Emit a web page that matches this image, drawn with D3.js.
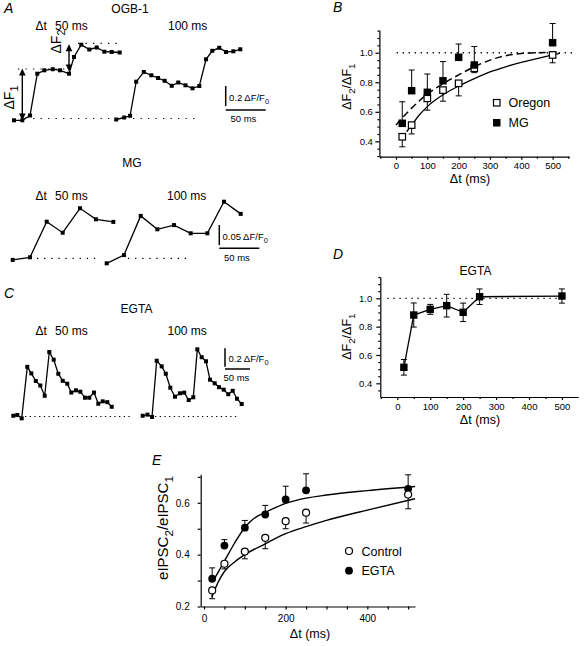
<!DOCTYPE html>
<html><head><meta charset="utf-8">
<script src="https://cdn.jsdelivr.net/npm/d3@7"></script>
<style>
body{margin:0;background:#fff}
svg{display:block}
text{font-family:"Liberation Sans",Arial,Helvetica,sans-serif;fill:#000}
</style>
</head><body>
<svg id="c" width="584" height="646"></svg>
<script>
// ================= DATA =================
// Panel A – OGB-1 traces (time in ms, ΔF/F0)
const ogb50Time = [0,10.4,20,29.1,37.9,48.4,57.5,68.8,75,84.1,94.1,103.4,112.9,122.1,132.1];
const ogb50Val  = [-0.018,-0.018,0.03,0.448,0.482,0.493,0.482,0.448,0.615,0.738,0.69,0.71,0.668,0.665,0.66];
const ogb100Time = [0,10,17.3,25,34.5,43.9,52.3,60.6,69.4,77.6,86.6,95.4,103.9,112.3,120.1,128.8,137.3,146.4,155.1];
const ogb100Val  = [-0.01,0.01,0.027,0.368,0.465,0.432,0.405,0.377,0.327,0.36,0.332,0.302,0.325,0.592,0.677,0.707,0.665,0.672,0.692];
const ogbLevels = [0, 0.495, 0.752];           // baseline, ΔF1 level, ΔF2 level
// Panel A – MG traces
const mg50Time = [0,21.6,42.5,62.5,84.1,104.1,125.8];
const mg50Val  = [-0.004,0.0025,0.0915,0.064,0.125,0.0975,0.091];
const mg100Time = [0,21.6,42.5,63.3,84.1,105,125.8,146.6,167.5];
const mg100Val  = [-0.0125,0.008,0.106,0.0725,0.083,0.0625,0.0625,0.1415,0.111];
// Panel C – EGTA traces
const egta50Time = [0,8,16.8,28,36,45,54,62.8,72,80.8,90,98.8,108,116,125.4,134,143.4,152,161.4,170,178.8,188,196.8];
const egta50Val  = [0.008,0.016,-0.02,0.537,0.466,0.384,0.335,0.224,0.697,0.614,0.462,0.386,0.354,0.259,0.283,0.268,0.203,0.203,0.259,0.138,0.164,0.155,0.105];
const egta100Time = [0,9.6,18.6,28,38,46.2,55.2,64.6,74.6,83,92,101.2,109.2,118,126.6,134.6,144,152.6,162,171.2,180,188.6,198];
const egta100Val  = [0.008,0.02,-0.005,0.603,0.542,0.462,0.311,0.214,0.251,0.258,0.178,0.208,0.726,0.641,0.597,0.398,0.359,0.317,0.29,0.241,0.278,0.192,0.135];

// Panel B – paired-pulse ratio of ΔF
const dtValues = [20,50,100,150,200,250,500];
const oregonRatio = [0.431,0.51,0.691,0.747,0.793,0.895,0.985];
const oregonErr   = [0.068,0.06,0.08,0.075,0.085,0.03,0.053];
const mgRatio = [0.522,0.743,0.732,0.81,0.969,0.917,1.068];
const mgErr   = [0.146,0.14,0.124,0.13,0.09,0.125,0.13];
const oregonFitT = [34,50,75,100,150,200,250,300,350,400,450,500,523];
const oregonFitV = [0.465,0.51,0.58,0.635,0.715,0.775,0.825,0.87,0.905,0.935,0.96,0.985,0.995];
const mgFitT = [0,25,50,100,150,200,250,300,350,400,450,520];
const mgFitV = [0.51,0.57,0.625,0.72,0.79,0.85,0.905,0.95,0.98,0.995,1.0,1.005];

// Panel D – EGTA ratio
const egtaRatio = [0.513,0.882,0.922,0.948,0.901,1.011,1.016];
const egtaErr   = [0.055,0.085,0.035,0.08,0.065,0.055,0.05];

// Panel E – eIPSC2/eIPSC1
const controlIpsc = [0.262,0.365,0.412,0.465,0.529,0.562,0.632];
const controlErr  = [0.032,0.02,0.028,0.042,0.029,0.04,0.055];
const egtaIpsc = [0.307,0.435,0.504,0.555,0.613,0.648,0.654];
const egtaIpscErr = [0.042,0.023,0.028,0.035,0.051,0.064,0.054];
const controlFitT = [19,35,50,75,100,150,200,250,300,400,517];
const controlFitV = [0.236,0.295,0.335,0.372,0.40,0.442,0.481,0.508,0.532,0.572,0.616];
const egtaFitT = [23,50,75,100,115,130,150,200,250,300,400,517];
const egtaFitV = [0.30,0.375,0.445,0.505,0.53,0.548,0.563,0.598,0.618,0.63,0.647,0.663];

// Tick labels
const ratioTicks = [0.4,0.6,0.8,1.0];
const dtTicks = [0,100,200,300,400,500];
const ipscTicks = [0.2,0.4,0.6];
const ipscDtTicks = [0,200,400];

// ================= DRAWING =================
const svg = d3.select("#c");
const BLK = "#000";

function rich(x, y, parts, o = {}) {
  const size = o.size || 12;
  const t = svg.append("text").attr("font-size", size)
    .attr("text-anchor", o.anchor || "start");
  if (o.italic) t.attr("font-style", "italic");
  if (o.rotate) { t.attr("x", 0).attr("y", 0).attr("transform", `translate(${x},${y}) rotate(${o.rotate})`); }
  else { t.attr("x", x).attr("y", y); }
  let shifted = 0;
  parts.forEach(p => {
    if (typeof p === "string") {
      const s = t.append("tspan").text(p);
      if (shifted) { s.attr("dy", -shifted); shifted = 0; }
    } else {
      const sh = size * 0.3;
      t.append("tspan").attr("font-size", size * 0.78).attr("dy", sh - shifted).text(p.sub);
      shifted = sh;
    }
  });
  return t;
}
function seg(x1, y1, x2, y2, w = 1.2, dash = null) {
  const l = svg.append("line").attr("x1", x1).attr("y1", y1).attr("x2", x2).attr("y2", y2)
    .attr("stroke", BLK).attr("stroke-width", w);
  if (dash) l.attr("stroke-dasharray", dash);
  return l;
}
function drawTrace(T, V, x, y) {
  const line = d3.line().x((d, i) => x(T[i])).y((d, i) => y(V[i]));
  svg.append("path").attr("d", line(T)).attr("fill", "none").attr("stroke", BLK).attr("stroke-width", 1.3);
  svg.append("g").selectAll("rect").data(T).enter().append("rect")
    .attr("x", (d, i) => x(T[i]) - 2).attr("y", (d, i) => y(V[i]) - 2)
    .attr("width", 4).attr("height", 4).attr("fill", BLK);
}
function traceX(x0, k) { return d3.scaleLinear().domain([0, 100]).range([x0, x0 + 100 * k]); }
function arrowHead(x, yTip, dir) { // dir: -1 up, +1 down
  const L = 7, W = 3.3;
  svg.append("path").attr("d", `M${x},${yTip} L${x - W},${yTip - dir * L} L${x + W},${yTip - dir * L} Z`).attr("fill", BLK);
}

// ---------- Panel A (OGB-1) ----------
rich(4, 13, ["A"], { size: 14, italic: true });
rich(130, 13, ["OGB-1"], { size: 12, anchor: "middle" });
rich(35.5, 30, ["\u0394t"], { size: 12 });
rich(55, 30, ["50 ms"], { size: 12 });
rich(168, 30, ["100 ms"], { size: 12 });

const yOgb = d3.scaleLinear().domain([0, 1]).range([118.5, 18.5]);
const xOgbL = traceX(14, 0.8), xOgbR = traceX(116.2, 0.8);
const DOT7 = "1.3,6.2";
seg(xOgbL(23.75), yOgb(ogbLevels[0]), xOgbL(136), yOgb(ogbLevels[0]), 1.2, DOT7);
seg(xOgbR(21), yOgb(ogbLevels[0]), xOgbR(103.5), yOgb(ogbLevels[0]), 1.2, DOT7);
seg(xOgbL(5), yOgb(ogbLevels[1]), xOgbL(67.5), yOgb(ogbLevels[1]), 1.2, DOT7);
seg(xOgbL(80), yOgb(ogbLevels[2]), xOgbL(132.5), yOgb(ogbLevels[2]), 1.2, DOT7);
drawTrace(ogb50Time, ogb50Val, xOgbL, yOgb);
drawTrace(ogb100Time, ogb100Val, xOgbR, yOgb);
// ΔF1 arrow
{
  const ax = xOgbL(10.4), top = yOgb(ogbLevels[1]) - 0.5, bot = yOgb(-0.02);
  seg(ax, top + 5, ax, bot - 5, 1.4);
  arrowHead(ax, top, -1); arrowHead(ax, bot, 1);
  const bx = xOgbL(68.75), top2 = yOgb(ogbLevels[2]) + 1, bot2 = yOgb(0.47);
  seg(bx, top2 + 5, bx, bot2 - 5, 1.4);
  arrowHead(bx, top2, -1); arrowHead(bx, bot2, 1);
}
rich(14, 97.5, ["\u0394F", { sub: "1" }], { size: 14, anchor: "middle", rotate: -90 });
rich(60.5, 41.5, ["\u0394F", { sub: "2" }], { size: 14, anchor: "middle", rotate: -90 });
// scale bars
seg(225.7, yOgb(0), 225.7, yOgb(0.2), 1.5).attr("transform", `translate(0,${106 - yOgb(0)})`);
seg(225.7, 110, 225.7 + xOgbL(50) - xOgbL(0), 110, 1.5);
rich(229, 101, ["0.2 \u0394F/F", { sub: "0" }], { size: 9.5 });
rich(230.5, 121.5, ["50 ms"], { size: 9.5 });

// ---------- MG ----------
rich(132, 166.5, ["MG"], { size: 12, anchor: "middle" });
rich(35.5, 199.5, ["\u0394t"], { size: 12 });
rich(55, 199.5, ["50 ms"], { size: 12 });
rich(167, 199.5, ["100 ms"], { size: 12 });
const yMg = d3.scaleLinear().domain([0, 0.25]).range([258.3, 158.3]);
const xMgL = traceX(12.7, 0.8), xMgR = traceX(106.7, 0.8);
seg(xMgL(30.4), yMg(0), xMgL(109), yMg(0), 1.2, "1.3,5.8");
seg(xMgR(26.6), yMg(0), xMgR(104.1), yMg(0), 1.2, "1.3,5.8");
drawTrace(mg50Time, mg50Val, xMgL, yMg);
drawTrace(mg100Time, mg100Val, xMgR, yMg);
seg(219.3, 245, 219.3, 245 - (yMg(0) - yMg(0.05)), 1.5);
seg(219.3, 248.3, 219.3 + xMgL(50) - xMgL(0), 248.3, 1.5);
rich(222.5, 240, ["0.05 \u0394F/F", { sub: "0" }], { size: 9.5 });
rich(224, 260.5, ["50 ms"], { size: 9.5 });

// ---------- Panel C (EGTA traces) ----------
rich(4, 297.5, ["C"], { size: 14, italic: true });
rich(136.5, 312.5, ["EGTA"], { size: 12, anchor: "middle" });
rich(35.5, 335, ["\u0394t"], { size: 12 });
rich(55, 335, ["50 ms"], { size: 12 });
rich(167.5, 335, ["100 ms"], { size: 12 });
const yEg = d3.scaleLinear().domain([0, 1]).range([416.5, 324]);
const xEgL = traceX(13.3, 0.5), xEgR = traceX(142.7, 0.5);
seg(xEgL(23.4), yEg(0), xEgL(239.4), yEg(0), 1.2, "1.3,3.4");
seg(xEgR(24.6), yEg(0), xEgR(188.6), yEg(0), 1.2, "1.3,3.4");
drawTrace(egta50Time, egta50Val, xEgL, yEg);
drawTrace(egta100Time, egta100Val, xEgR, yEg);
seg(225, 366.7, 225, 366.7 - (yEg(0) - yEg(0.2)), 1.5);
seg(225, 369, 225 + xEgL(50) - xEgL(0), 369, 1.5);
rich(228.5, 362.3, ["0.2 \u0394F/F", { sub: "0" }], { size: 9.5 });
rich(223.5, 380.5, ["50 ms"], { size: 9.5 });

// ---------- generic axes ----------
function axes(x, y, o) {
  const y0 = y.range()[0], x0 = x.range()[0];
  const gx = svg.append("g").attr("transform", `translate(0,${y0})`)
    .call(d3.axisBottom(x).tickValues(o.xMajor).tickSize(3).tickPadding(o.xPad).tickSizeOuter(0).tickFormat(d3.format("d")));
  svg.append("g").attr("transform", `translate(0,${y0})`)
    .call(d3.axisBottom(x).tickValues(o.xMinor).tickSize(o.xMinorSize || 2).tickSizeOuter(0).tickFormat(""))
    .select(".domain").remove();
  const gy = svg.append("g").attr("transform", `translate(${x0},0)`)
    .call(d3.axisLeft(y).tickValues(o.yMajor).tickSize(o.yTick || 4).tickPadding(o.yPad).tickSizeOuter(0).tickFormat(d3.format(".1f")));
  svg.append("g").attr("transform", `translate(${x0},0)`)
    .call(d3.axisLeft(y).tickValues(o.yMinor).tickSize(o.yMinorSize || 2).tickSizeOuter(0).tickFormat(""))
    .select(".domain").remove();
  svg.selectAll(".tick line, .domain").attr("stroke", BLK).attr("stroke-width", 1.2);
  [gx, gy].forEach(g => g.attr("font-family", null).attr("font-size", null)
    .selectAll("text").attr("font-size", o.tickFont).attr("fill", BLK));
}
function errBars(x, y, X, V, E, dir, cap) {
  X.forEach((xv, i) => {
    const px = x(xv), a = y(V[i]), b = y(V[i] + dir * E[i]);
    seg(px, a, px, b, 1);
    seg(px - cap, b, px + cap, b, 1);
  });
}

// ---------- Panel B ----------
rich(333, 12, ["B"], { size: 14, italic: true });
const xB = d3.scaleLinear().domain([-53, 553]).range([379.4, 569.2]);
const yB = d3.scaleLinear().domain([0.296, 1.154]).range([156.7, 30]);
axes(xB, yB, {
  xMajor: dtTicks, xMinor: [-50, 50, 150, 250, 350, 450, 550], xPad: 2.5,
  yMajor: ratioTicks, yMinor: d3.range(0.3, 1.151, 0.05).filter(v => ratioTicks.every(t => Math.abs(t - v) > 1e-6)),
  yPad: 2.5, tickFont: 9.5
});
seg(xB(2), yB(1), xB(575), yB(1), 1.3, "1.3,4.7");
errBars(xB, yB, dtValues, oregonRatio, oregonErr, -1, 3);
errBars(xB, yB, dtValues, mgRatio, mgErr, 1, 3);
svg.append("path").attr("d", d3.line().curve(d3.curveMonotoneX).x((d, i) => xB(oregonFitT[i])).y((d, i) => yB(oregonFitV[i]))(oregonFitT))
  .attr("fill", "none").attr("stroke", BLK).attr("stroke-width", 1.3);
svg.append("path").attr("d", d3.line().curve(d3.curveMonotoneX).x((d, i) => xB(mgFitT[i])).y((d, i) => yB(mgFitV[i]))(mgFitT))
  .attr("fill", "none").attr("stroke", BLK).attr("stroke-width", 1.5).attr("stroke-dasharray", "7,4");
const SQ = 6.5;
svg.append("g").selectAll("rect").data(dtValues).enter().append("rect")
  .attr("x", (d) => xB(d) - SQ / 2).attr("y", (d, i) => yB(oregonRatio[i]) - SQ / 2)
  .attr("width", SQ).attr("height", SQ).attr("fill", "#fff").attr("stroke", BLK).attr("stroke-width", 1.2);
svg.append("g").selectAll("rect").data(dtValues).enter().append("rect")
  .attr("x", (d) => xB(d) - SQ / 2 - 0.5).attr("y", (d, i) => yB(mgRatio[i]) - SQ / 2 - 0.5)
  .attr("width", SQ + 1).attr("height", SQ + 1).attr("fill", BLK);
// legend
svg.append("rect").attr("x", 493.5).attr("y", 99.5).attr("width", SQ).attr("height", SQ).attr("fill", "#fff").attr("stroke", BLK).attr("stroke-width", 1.2);
rich(508.5, 107, ["Oregon"], { size: 12.5 });
svg.append("rect").attr("x", 493).attr("y", 119).attr("width", SQ + 1).attr("height", SQ + 1).attr("fill", BLK);
rich(508.5, 127, ["MG"], { size: 12.5 });
rich(470, 183, ["\u0394t (ms)"], { size: 12.5, anchor: "middle" });
rich(351, 86.7, ["\u0394F", { sub: "2" }, "/\u0394F", { sub: "1" }], { size: 12.5, anchor: "middle", rotate: -90 });

// ---------- Panel D ----------
rich(333, 258.5, ["D"], { size: 14, italic: true });
rich(475.5, 275, ["EGTA"], { size: 12, anchor: "middle" });
const xD = d3.scaleLinear().domain([-51.6, 549.7]).range([380.3, 578.3]);
const yD = d3.scaleLinear().domain([0.3035, 1.1524]).range([397, 276.7]);
axes(xD, yD, {
  xMajor: dtTicks, xMinor: [-50, 50, 150, 250, 350, 450], xPad: 3.5,
  yMajor: ratioTicks, yMinor: d3.range(0.35, 1.151, 0.05).filter(v => ratioTicks.every(t => Math.abs(t - v) > 1e-6)),
  yPad: 4, tickFont: 9.5
});
seg(xD(-30), yD(1), xD(500), yD(1), 1.3, "1.3,4.7");
svg.append("path").attr("d", d3.line().x((d) => xD(d)).y((d, i) => yD(egtaRatio[i]))(dtValues))
  .attr("fill", "none").attr("stroke", BLK).attr("stroke-width", 1.3);
errBars(xD, yD, dtValues, egtaRatio, egtaErr, 1, 3);
errBars(xD, yD, dtValues, egtaRatio, egtaErr, -1, 3);
svg.append("g").selectAll("rect").data(dtValues).enter().append("rect")
  .attr("x", (d) => xD(d) - 3.7).attr("y", (d, i) => yD(egtaRatio[i]) - 3.7)
  .attr("width", 7.4).attr("height", 7.4).attr("fill", BLK);
rich(480, 423.5, ["\u0394t (ms)"], { size: 12.5, anchor: "middle" });
rich(351, 336.7, ["\u0394F", { sub: "2" }, "/\u0394F", { sub: "1" }], { size: 12.5, anchor: "middle", rotate: -90 });

// ---------- Panel E ----------
rich(152, 465, ["E"], { size: 14, italic: true });
const xE = d3.scaleLinear().domain([-8.1, 516.8]).range([200.7, 415]);
const yE = d3.scaleLinear().domain([0.2, 0.71]).range([606.5, 474.3]);
axes(xE, yE, {
  xMajor: ipscDtTicks, xMinor: [50, 100, 150, 250, 300, 350, 450, 500], xPad: 5, xMinorSize: 3,
  yMajor: ipscTicks, yMinor: [0.3, 0.5, 0.7], yPad: 8, yTick: 3, yMinorSize: 3, tickFont: 10
});
errBars(xE, yE, dtValues, egtaIpsc, egtaIpscErr, 1, 3);
errBars(xE, yE, dtValues, controlIpsc, controlErr, -1, 3);
svg.append("path").attr("d", d3.line().curve(d3.curveMonotoneX).x((d, i) => xE(egtaFitT[i])).y((d, i) => yE(egtaFitV[i]))(egtaFitT))
  .attr("fill", "none").attr("stroke", BLK).attr("stroke-width", 1.4);
svg.append("path").attr("d", d3.line().curve(d3.curveMonotoneX).x((d, i) => xE(controlFitT[i])).y((d, i) => yE(controlFitV[i]))(controlFitT))
  .attr("fill", "none").attr("stroke", BLK).attr("stroke-width", 1.4);
svg.append("g").selectAll("circle").data(dtValues).enter().append("circle")
  .attr("cx", (d) => xE(d)).attr("cy", (d, i) => yE(egtaIpsc[i])).attr("r", 3.9).attr("fill", BLK);
svg.append("g").selectAll("circle").data(dtValues).enter().append("circle")
  .attr("cx", (d) => xE(d)).attr("cy", (d, i) => yE(controlIpsc[i])).attr("r", 3.5)
  .attr("fill", "#fff").attr("stroke", BLK).attr("stroke-width", 1.2);
svg.append("circle").attr("cx", 349).attr("cy", 551).attr("r", 3.5).attr("fill", "#fff").attr("stroke", BLK).attr("stroke-width", 1.2);
rich(361.5, 555.5, ["Control"], { size: 12.5 });
svg.append("circle").attr("cx", 349).attr("cy", 570.7).attr("r", 3.9).attr("fill", BLK);
rich(361.5, 575, ["EGTA"], { size: 12.5 });
rich(310, 638, ["\u0394t (ms)"], { size: 12.5, anchor: "middle" });
rich(168, 528, ["eIPSC", { sub: "2" }, "/eIPSC", { sub: "1" }], { size: 15, anchor: "middle", rotate: -90 });
</script>
</body></html>
